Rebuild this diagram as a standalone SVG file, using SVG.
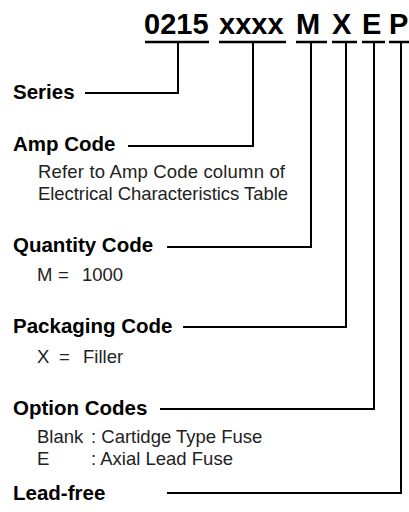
<svg xmlns="http://www.w3.org/2000/svg" width="409" height="512" viewBox="0 0 409 512">
<style>
.hd{font-family:"Liberation Sans",Arial,sans-serif;font-weight:bold;font-size:29px;fill:#000}
.lb{font-family:"Liberation Sans",Arial,sans-serif;font-weight:bold;font-size:20.5px;fill:#000}
.ds{font-family:"Liberation Sans",Arial,sans-serif;font-size:18.5px;fill:#222}
.ln{stroke:#000;stroke-width:2;fill:none}
.ul{stroke:#000;stroke-width:2.5;fill:none}
</style>
<rect width="409" height="512" fill="#fff"/>
<g id="code">
<text class="hd" x="144" y="33.5">0215</text>
<text class="hd" x="219" y="33.5">xxxx</text>
<text class="hd" x="296" y="33.5">M</text>
<text class="hd" x="332" y="33.5">X</text>
<text class="hd" x="362" y="33.5">E</text>
<text class="hd" x="389" y="33.5">P</text>
<line class="ul" x1="145" y1="42" x2="209" y2="42"/>
<line class="ul" x1="219" y1="42" x2="286" y2="42"/>
<line class="ul" x1="296" y1="42" x2="327" y2="42"/>
<line class="ul" x1="332" y1="42" x2="357" y2="42"/>
<line class="ul" x1="362" y1="42" x2="385" y2="42"/>
<line class="ul" x1="389" y1="42" x2="409" y2="42"/>
</g>
<g id="connectors">
<polyline class="ln" points="178,42 178,93 85,93"/>
<polyline class="ln" points="253,42 253,146 128,146"/>
<polyline class="ln" points="311,42 311,247 167,247"/>
<polyline class="ln" points="346,42 346,327 183,327"/>
<polyline class="ln" points="374,42 374,409 160,409"/>
<polyline class="ln" points="401,42 401,493 167,493"/>
</g>
<g id="series"><text class="lb" x="13" y="99">Series</text></g>
<g id="amp">
<text class="lb" x="13" y="151">Amp Code</text>
<text class="ds" x="38" y="178" textLength="247" lengthAdjust="spacing">Refer to Amp Code column of</text>
<text class="ds" x="38" y="200" textLength="250" lengthAdjust="spacing">Electrical Characteristics Table</text>
</g>
<g id="quantity">
<text class="lb" x="13" y="252">Quantity Code</text>
<text class="ds" x="37" y="281">M</text><text class="ds" x="58" y="281">=</text><text class="ds" x="82" y="281">1000</text>
</g>
<g id="packaging">
<text class="lb" x="13" y="333">Packaging Code</text>
<text class="ds" x="37" y="363">X</text><text class="ds" x="59" y="363">=</text><text class="ds" x="83" y="363">Filler</text>
</g>
<g id="option">
<text class="lb" x="13" y="415">Option Codes</text>
<text class="ds" x="37" y="443">Blank</text><text class="ds" x="91" y="443">: Cartidge Type Fuse</text>
<text class="ds" x="37" y="465">E</text><text class="ds" x="91" y="465">: Axial Lead Fuse</text>
</g>
<g id="leadfree"><text class="lb" x="13" y="500">Lead-free</text></g>
</svg>
